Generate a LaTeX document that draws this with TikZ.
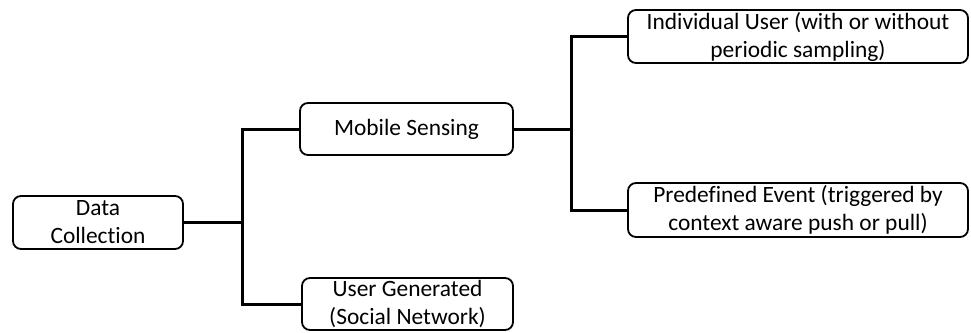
\documentclass[tikz,border=0pt]{standalone}
\usepackage{fontspec}
\setmainfont[Ligatures=NoCommon]{Carlito}
\begin{document}
\begin{tikzpicture}[x=1pt,y=-1pt,
  box/.style={draw=black, line width=1.8pt, rounded corners=8pt, align=center,
    inner sep=0pt, font=\fontsize{23.4}{28}\selectfont},
  link/.style={draw=black, line width=3pt, line cap=rect}]
\useasboundingbox (0,0) rectangle (971,332);

\node[box, minimum width=170pt, minimum height=53pt] (dc) at (98,222.5) {Data\\Collection};
\node[box, minimum width=213pt, minimum height=52pt] (ms) at (406.5,129) {Mobile Sensing};
\node[box, minimum width=211pt, minimum height=52pt] (ug) at (407.5,304) {User Generated\\(Social Network)};
\node[box, minimum width=340pt, minimum height=53pt] (iu) at (798,36.5) {Individual User (with or without\\periodic sampling)};
\node[box, minimum width=340pt, minimum height=54pt] (pe) at (798,210) {Predefined Event (triggered by\\context aware push or pull)};

\coordinate (j1) at (242,0);
\coordinate (j2) at (571,0);

\draw[link] (dc.east) -- (dc.east -| j1);
\draw[link] (ms.west) -- (ms.west -| j1) |- (ug.west);
\draw[link] (ms.east) -- (ms.east -| j2);
\draw[link] (iu.west) -- (iu.west -| j2) |- (pe.west);
\end{tikzpicture}
\end{document}
